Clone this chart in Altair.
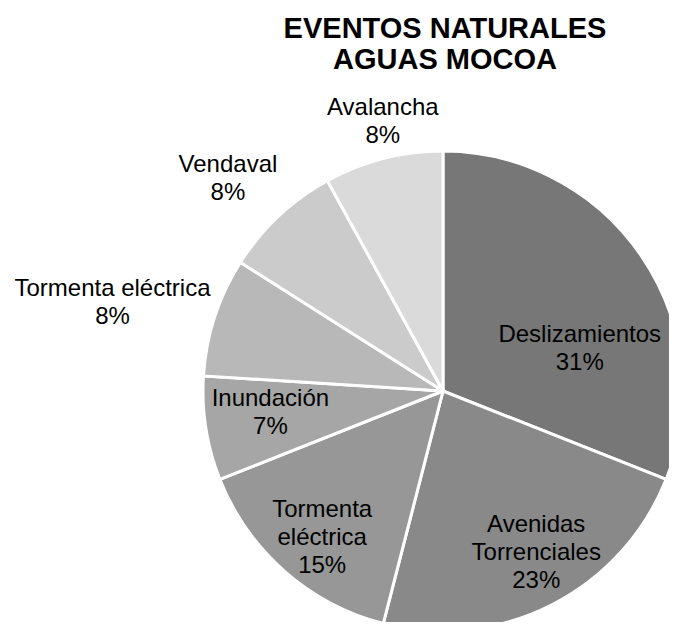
import altair as alt
import pandas as pd

# ---- data ----
categories = ["Deslizamientos", "Avenidas Torrenciales", "Tormenta eléctrica",
              "Inundación", "Tormenta eléctrica", "Vendaval", "Avalancha"]
label_names = ["Deslizamientos", "Avenidas\nTorrenciales", "Tormenta\neléctrica",
               "Inundación", "Tormenta eléctrica", "Vendaval", "Avalancha"]
values = [31, 23, 15, 7, 8, 8, 8]
pct_labels = ["31%", "23%", "15%", "7%", "8%", "8%", "8%"]
title_lines = ["EVENTOS NATURALES", "AGUAS MOCOA"]

# ---- styles / layout ----
colors = ["#777777", "#898989", "#979797", "#a6a6a6", "#b8b8b8", "#cbcbcb", "#dadada"]
label_radius = [143, 187, 190, 174, 342, 302, 276]
label_shift_deg = [17.2, -2.9, -1.9, 1.8, -3.1, -2.2, 1.8]
CX, CY, R = 435, 383, 240
FONT = "Liberation Sans"
LH = 28

df = pd.DataFrame({
    "idx": list(range(len(values))),
    "category": categories,
    "value": values,
    "label": [f"{n}\n{p}" for n, p in zip(label_names, pct_labels)],
})

base = alt.Chart(df)

arcs = base.mark_arc(outerRadius=R, stroke="white", strokeWidth=3).encode(
    theta=alt.Theta("value:Q", stack=True),
    order=alt.Order("idx:Q"),
    color=alt.Color("idx:N", scale=alt.Scale(domain=list(range(len(values))), range=colors), legend=None),
    x=alt.value(CX),
    y=alt.value(CY),
)

label_base = base.transform_window(
    cum="sum(value)", sort=[alt.SortField("idx")], frame=[None, 0]
).transform_joinaggregate(
    total="sum(value)"
).transform_calculate(
    ang=f"((datum.cum - datum.value/2)/datum.total)*2*PI + {label_shift_deg}[datum.idx]*PI/180",
    rad=f"{label_radius}[datum.idx]",
    nl="length(split(datum.label, '\\n'))",
)

label_layers = []
for n in (2, 3):
    label_layers.append(
        label_base.transform_filter(f"datum.nl == {n}").mark_text(
            font=FONT, fontSize=24, color="#000000", lineBreak="\n", lineHeight=LH,
            align="center", baseline="middle", dy=-(n - 1) * LH / 2,
        ).encode(
            theta=alt.Theta("ang:Q", scale=None, stack=False),
            radius=alt.Radius("rad:Q", scale=None),
            text="label:N",
            x=alt.value(CX),
            y=alt.value(CY),
        )
    )

title = alt.Chart(pd.DataFrame({"t": ["\n".join(title_lines)]})).mark_text(
    font=FONT, fontSize=29, fontWeight="bold", color="#000000",
    lineBreak="\n", lineHeight=31, align="center", baseline="alphabetic",
).encode(
    text="t:N",
    x=alt.value(437),
    y=alt.value(30),
)

chart = alt.layer(arcs, *label_layers, title).properties(
    width=661, height=614,
    autosize=alt.AutoSizeParams(type="none"),
    padding=0,
).configure_view(stroke=None)

chart.save("out.html", embed_options={"renderer": "svg", "actions": False})
